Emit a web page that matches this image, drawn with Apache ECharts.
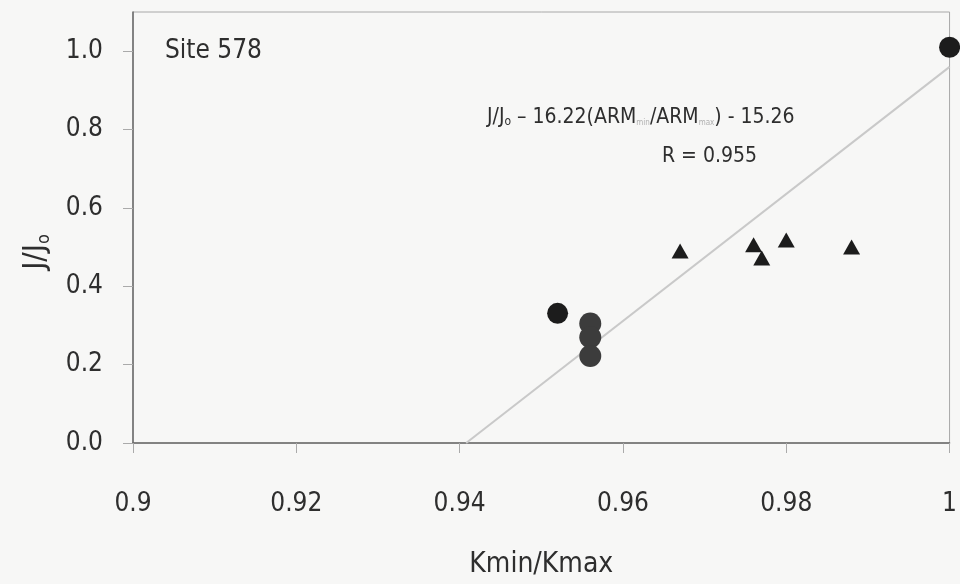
<!DOCTYPE html>
<html>
<head>
<meta charset="utf-8">
<script src="https://cdn.jsdelivr.net/npm/echarts@6/dist/echarts.min.js"></script>
<style>
html,body{margin:0;padding:0;background:#f7f7f6;}
#chart{width:960px;height:584px;}
</style>
</head>
<body>
<div id="chart"></div>
<script>
// ---- data ----
const xTickLabels = ['0.9', '0.92', '0.94', '0.96', '0.98', '1'];
const yTickLabels = ['0.0', '0.2', '0.4', '0.6', '0.8', '1.0'];

const blackCircleX = [0.952, 1.0];
const blackCircleY = [0.331, 1.01];

const grayCircleX = [0.956, 0.956, 0.956];
const grayCircleY = [0.305, 0.27, 0.222];

const triangleX = [0.967, 0.976, 0.977, 0.980, 0.988];
const triangleY = [0.490, 0.506, 0.472, 0.518, 0.500];

const fitX = [0.9408, 1.0];
const fitY = [0.0, 0.96];

const siteLabel = 'Site 578';
const xName = 'Kmin/Kmax';

// ---- chart ----
const FONT = "'DejaVu Sans Condensed','Liberation Sans Narrow','Roboto',sans-serif";
const TXT = '#2e2e2e';
const zip = (xs, ys) => xs.map((x, i) => [x, ys[i]]);

const chart = echarts.init(document.getElementById('chart'), null, {renderer: 'canvas'});
chart.setOption({
  backgroundColor: '#f7f7f6',
  animation: false,
  grid: {left: 133, right: 8, top: 12, bottom: 141, show: true, borderColor: '#a8a8a8', borderWidth: 1, backgroundColor: 'transparent'},
  xAxis: {
    type: 'value', min: 0.9, max: 1.0, interval: 0.02,
    name: xName, nameLocation: 'middle', nameGap: 108,
    nameTextStyle: {fontFamily: FONT, fontSize: 28, color: TXT},
    axisLine: {show: true, lineStyle: {color: '#6a6a6a', width: 1.5}},
    axisTick: {show: true, length: 10, lineStyle: {color: '#aaaaaa'}},
    splitLine: {show: false},
    axisLabel: {
      margin: 48, fontFamily: FONT, fontSize: 26, color: TXT,
      formatter: v => xTickLabels[Math.round((v - 0.9) / 0.02)]
    }
  },
  yAxis: {
    type: 'value', min: 0, max: 1.1, interval: 0.2,
    axisLine: {show: true, lineStyle: {color: '#6a6a6a', width: 1.5}},
    axisTick: {show: true, length: 10, lineStyle: {color: '#aaaaaa'}},
    splitLine: {show: false},
    axisLabel: {
      margin: 30, fontFamily: FONT, fontSize: 26, color: TXT, showMaxLabel: false,
      formatter: v => { const i = Math.round(v / 0.2); return i < yTickLabels.length ? yTickLabels[i] : ''; }
    }
  },
  series: [
    {
      type: 'line', data: zip(fitX, fitY), symbol: 'none', silent: true,
      lineStyle: {color: '#c9c9c9', width: 2}, z: 1
    },
    {
      type: 'scatter', data: zip(grayCircleX, grayCircleY), symbol: 'circle', symbolSize: 22,
      itemStyle: {color: '#3c3c3c', opacity: 1}, clip: false, z: 3
    },
    {
      type: 'scatter', data: zip(blackCircleX, blackCircleY), symbol: 'circle', symbolSize: 21,
      itemStyle: {color: '#1c1c1c', opacity: 1}, clip: false, z: 3
    },
    {
      type: 'scatter', data: zip(triangleX, triangleY), symbol: 'triangle', symbolSize: [17, 15],
      itemStyle: {color: '#1c1c1c', opacity: 1}, clip: false, z: 3
    }
  ],
  graphic: [
    {type: 'text', x: 36, y: 252, rotation: Math.PI / 2, style: {
      text: 'J/J{s|o}', fontFamily: FONT, fontSize: 31, fill: TXT, align: 'center', verticalAlign: 'middle',
      rich: {s: {fontFamily: FONT, fontSize: 18, fill: TXT, padding: [16, 0, 0, 0]}}
    }},
    {type: 'text', left: 165, top: 38, style: {text: siteLabel, fontFamily: FONT, fontSize: 26, fill: TXT}},
    {type: 'text', left: 487, top: 107, style: {
      text: 'J/J{s|o} – 16.22(ARM{g|min}/ARM{g|max}) - 15.26',
      fontFamily: FONT, fontSize: 21, fill: TXT,
      rich: {
        s: {fontFamily: FONT, fontSize: 12, fill: TXT, padding: [9, 0, 0, 0]},
        g: {fontFamily: FONT, fontSize: 8, fill: '#b0b0b0', padding: [11, 0, 0, 0]}
      }
    }},
    {type: 'text', left: 662, top: 146, style: {text: 'R = 0.955', fontFamily: FONT, fontSize: 21, fill: TXT}}
  ]
});
</script>
</body>
</html>
